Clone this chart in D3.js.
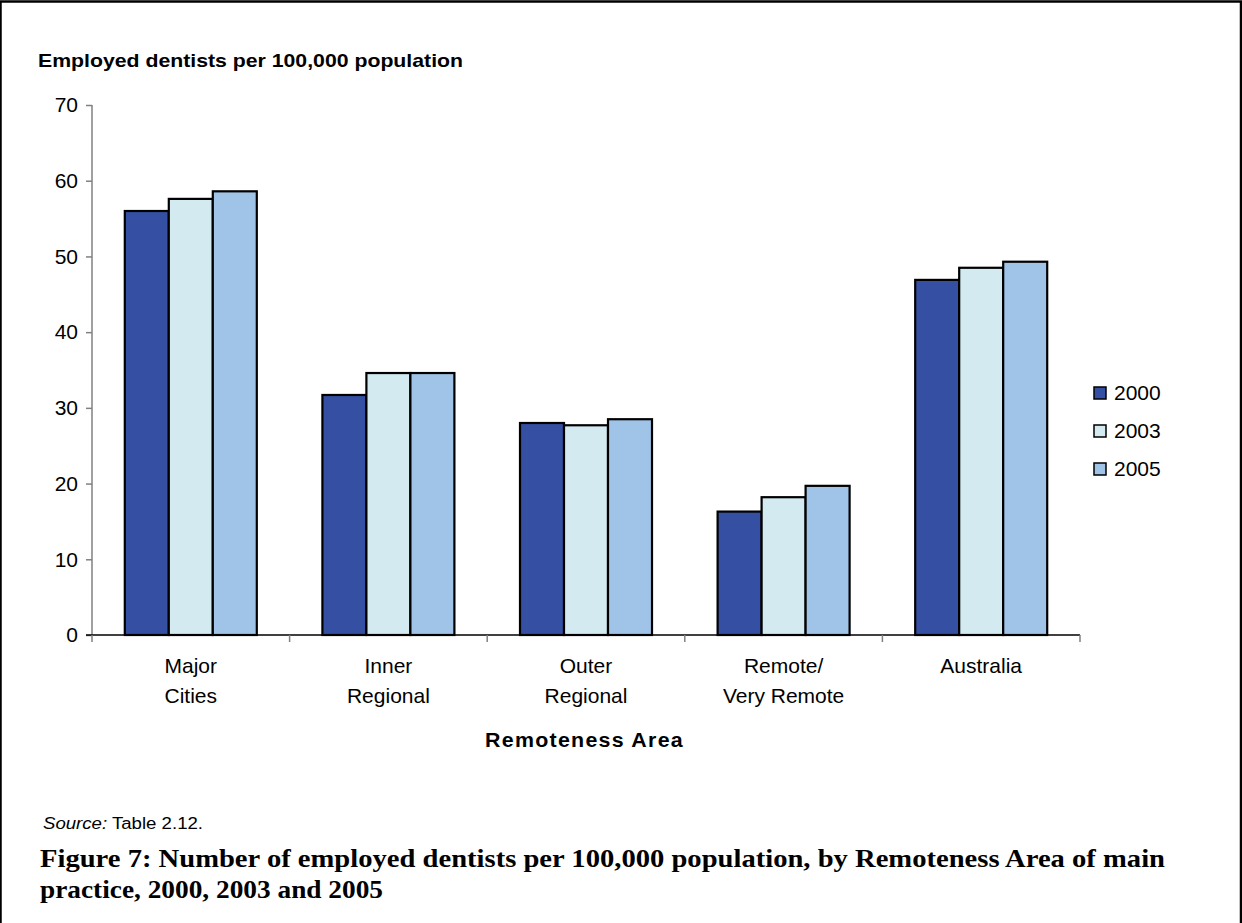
<!DOCTYPE html>
<html>
<head>
<meta charset="utf-8">
<script src="https://cdn.jsdelivr.net/npm/d3@7"></script>
<style>
  html, body { margin: 0; padding: 0; background: #fff; }
  svg { display: block; }
</style>
</head>
<body>
<svg id="chart" width="1242" height="923"></svg>
<script>
// Remoteness Area categories (each label split across two lines)
const categories = ["Major Cities", "Inner Regional", "Outer Regional", "Remote/ Very Remote", "Australia"];
const categoryLines = [["Major", "Cities"], ["Inner", "Regional"], ["Outer", "Regional"], ["Remote/", "Very Remote"], ["Australia"]];
const years = ["2000", "2003", "2005"];
// Employed dentists per 100,000 population
const values2000 = [56.0, 31.7, 28.0, 16.3, 46.9];
const values2003 = [57.6, 34.6, 27.7, 18.2, 48.5];
const values2005 = [58.6, 34.6, 28.5, 19.7, 49.3];
const yTicks = [0, 10, 20, 30, 40, 50, 60, 70];

const seriesValues = { "2000": values2000, "2003": values2003, "2005": values2005 };
const colors = { "2000": "#3550a3", "2003": "#d2eaf0", "2005": "#9fc4e8" };

const svg = d3.select("#chart");
const sans = "'Liberation Sans', Arial, sans-serif";
const serif = "'Liberation Serif', 'Times New Roman', serif";

// Page frame
svg.append("rect").attr("x", 0.5).attr("y", 1.5).attr("width", 1240.5).attr("height", 940)
  .attr("fill", "none").attr("stroke", "#000").attr("stroke-width", 2.5);

const plotLeft = 92, plotRight = 1080, plotTop = 105, plotBottom = 635;

const x0 = d3.scaleBand().domain(categories).range([plotLeft, plotRight]).padding(0);
const bw = x0.bandwidth();
const inset = bw * 0.166;
const x1 = d3.scaleBand().domain(years).range([inset, bw - inset]).padding(0);
const y = d3.scaleLinear().domain([0, 70]).range([plotBottom, plotTop]);

// Y axis
const yAxis = svg.append("g").attr("transform", `translate(${plotLeft},0)`)
  .call(d3.axisLeft(y).tickValues(yTicks).tickSize(6).tickPadding(8).tickFormat(d3.format("d")));
yAxis.select(".domain").attr("stroke", "#808080").attr("stroke-width", 1.5).attr("d", `M0,${plotTop}V${plotBottom}`);
yAxis.selectAll(".tick line").attr("stroke", "#808080").attr("stroke-width", 1.5);
yAxis.selectAll(".tick text").attr("font-family", sans).attr("font-size", 21).attr("fill", "#000");

// Bars
const groups = svg.append("g").selectAll("g").data(categories).join("g")
  .attr("transform", d => `translate(${x0(d)},0)`);
groups.selectAll("rect")
  .data((c, i) => years.map(yr => ({ yr, v: seriesValues[yr][i] })))
  .join("rect")
  .attr("x", d => x1(d.yr))
  .attr("y", d => y(d.v))
  .attr("width", x1.bandwidth())
  .attr("height", d => y(0) - y(d.v))
  .attr("fill", d => colors[d.yr])
  .attr("stroke", "#000")
  .attr("stroke-width", 2.2);

// X axis with ticks at category boundaries
const xAxis = svg.append("g").attr("transform", `translate(0,${plotBottom})`);
xAxis.append("line").attr("x1", plotLeft - 6).attr("x2", plotRight).attr("y1", 0).attr("y2", 0)
  .attr("stroke", "#000").attr("stroke-width", 1.5);
const boundaries = categories.map(c => x0(c)).concat([plotRight]);
xAxis.selectAll("line.tick").data(boundaries).join("line").attr("class", "tick")
  .attr("x1", d => d).attr("x2", d => d).attr("y1", 0).attr("y2", 7)
  .attr("stroke", "#808080").attr("stroke-width", 1.5);

const catLabels = svg.append("g").selectAll("text").data(categories).join("text")
  .attr("x", d => x0(d) + bw / 2)
  .attr("y", 673)
  .attr("text-anchor", "middle")
  .attr("font-family", sans).attr("font-size", 21).attr("fill", "#000");
catLabels.each(function(d, i) {
  const t = d3.select(this);
  categoryLines[i].forEach((line, j) => {
    t.append("tspan").attr("x", x0(d) + bw / 2).attr("dy", j === 0 ? 0 : 30).text(line);
  });
});

// Axis titles
svg.append("text").attr("x", 38).attr("y", 67)
  .attr("font-family", sans).attr("font-size", 19).attr("font-weight", "bold")
  .attr("textLength", 425).attr("lengthAdjust", "spacingAndGlyphs")
  .text("Employed dentists per 100,000 population");
svg.append("text").attr("x", 485).attr("y", 747)
  .attr("font-family", sans).attr("font-size", 20).attr("font-weight", "bold")
  .attr("letter-spacing", 1.2)
  .attr("textLength", 199).attr("lengthAdjust", "spacingAndGlyphs")
  .text("Remoteness Area");

// Legend
const legend = svg.append("g").selectAll("g").data(years).join("g")
  .attr("transform", (d, i) => `translate(1094,${387 + i * 38})`);
legend.append("rect").attr("width", 12).attr("height", 12)
  .attr("fill", d => colors[d]).attr("stroke", "#000").attr("stroke-width", 1.5);
legend.append("text").attr("x", 20).attr("y", 13)
  .attr("font-family", sans).attr("font-size", 21).text(d => d);

// Source and figure caption
const src = svg.append("text").attr("x", 43).attr("y", 829)
  .attr("font-family", sans).attr("font-size", 16)
  .attr("textLength", 160).attr("lengthAdjust", "spacingAndGlyphs");
src.append("tspan").attr("font-style", "italic").text("Source:");
src.append("tspan").text(" Table 2.12.");

const cap = svg.append("g").attr("font-family", serif).attr("font-size", 26).attr("font-weight", "bold");
cap.append("text").attr("x", 40).attr("y", 867)
  .attr("textLength", 1125).attr("lengthAdjust", "spacingAndGlyphs")
  .text("Figure 7: Number of employed dentists per 100,000 population, by Remoteness Area of main");
cap.append("text").attr("x", 40).attr("y", 898)
  .attr("textLength", 343).attr("lengthAdjust", "spacingAndGlyphs")
  .text("practice, 2000, 2003 and 2005");
</script>
</body>
</html>
